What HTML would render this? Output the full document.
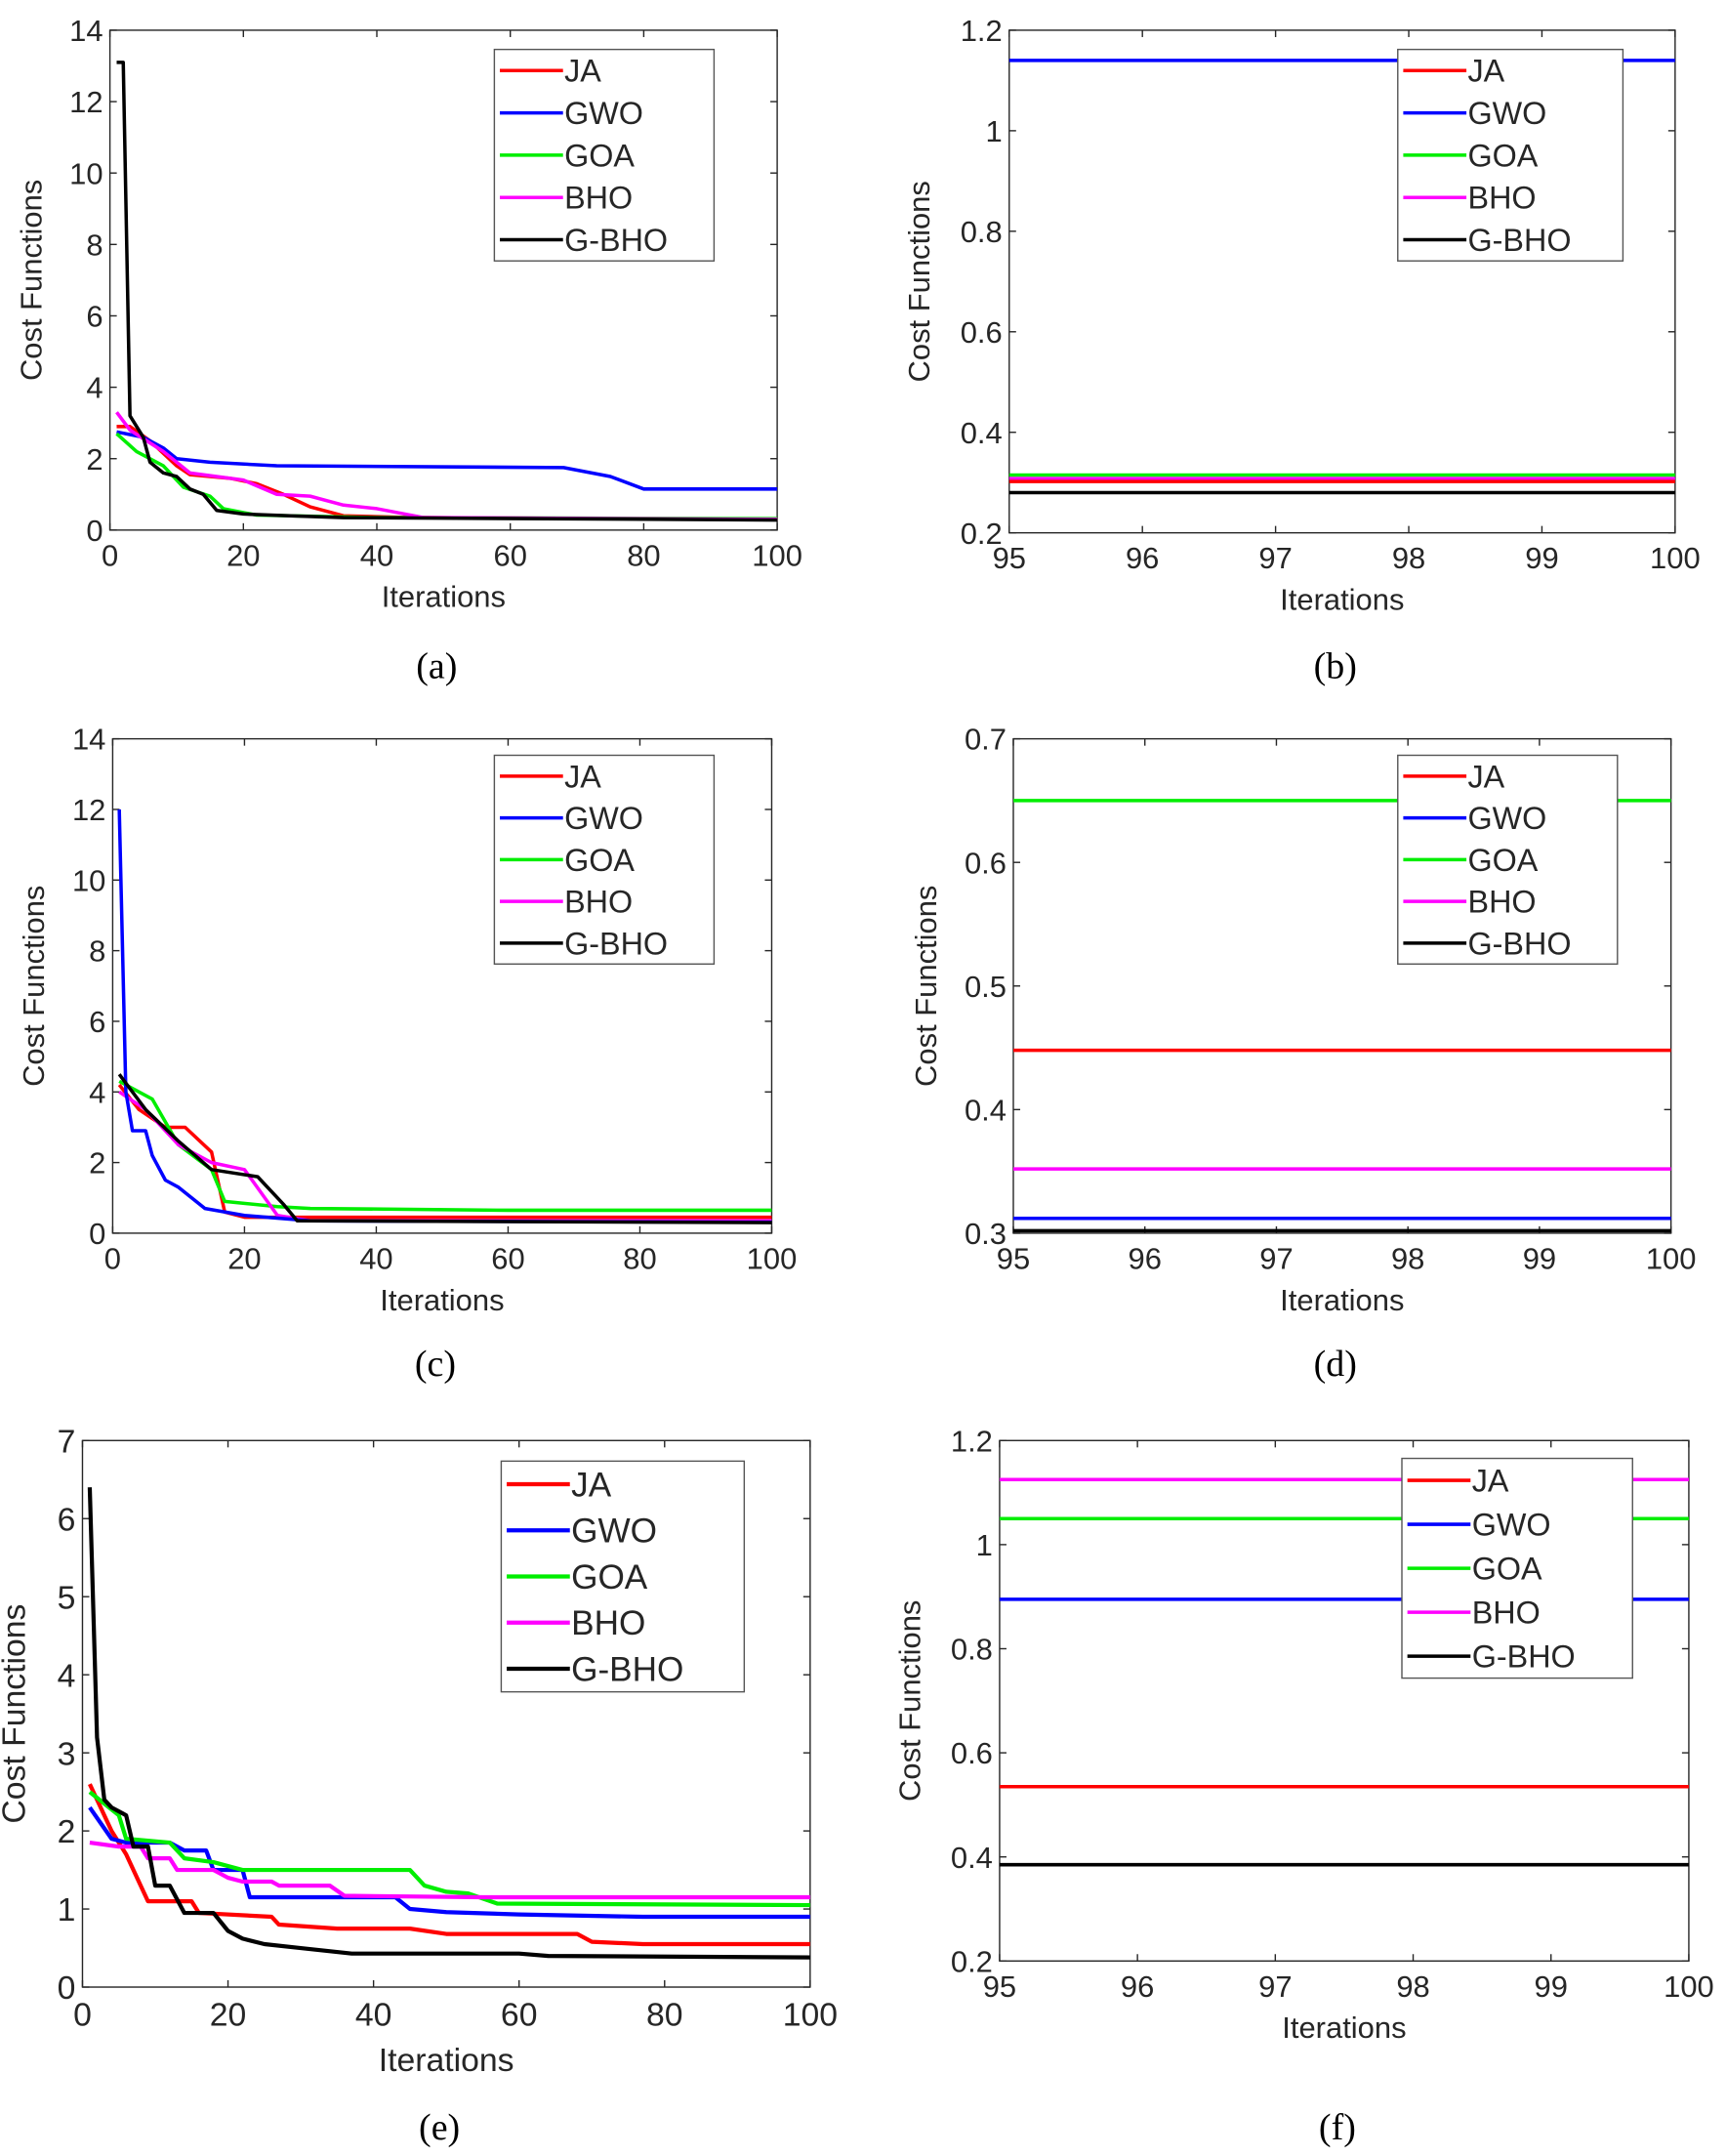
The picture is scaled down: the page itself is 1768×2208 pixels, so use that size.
<!DOCTYPE html>
<html><head><meta charset="utf-8"><style>
html,body{margin:0;padding:0;background:#fff}
svg{display:block}
text{font-family:"Liberation Sans",sans-serif;fill:#262626}
.cap{font-family:"Liberation Serif",serif;fill:#000;font-size:27px}
</style></head><body>
<svg id="s" width="1768" height="2208" viewBox="0 0 1257 1570" xmlns="http://www.w3.org/2000/svg"></svg>
<script>
const S=document.getElementById('s');
let out='';
const C={JA:'#ff0000',GWO:'#0000ff',GOA:'#00ee00',BHO:'#ff00ff','G-BHO':'#000000'};
function panel(p){
 const {x0,x1,y0,y1,xmin,xmax,ymin,ymax,xt,yt,leg,series,fs,cap,capy,lw}=p;
 const X=v=>x0+(v-xmin)/(xmax-xmin)*(x1-x0);
 const YY=v=>y1-(v-ymin)/(ymax-ymin)*(y1-y0);
 out+=`<rect x="${x0}" y="${y0}" width="${x1-x0}" height="${y1-y0}" fill="#fff" stroke="#262626" stroke-width="1"/>`;
 xt.forEach(v=>{const x=X(v);out+=`<line x1="${x}" y1="${y1}" x2="${x}" y2="${y1-5}" stroke="#262626"/><line x1="${x}" y1="${y0}" x2="${x}" y2="${y0+5}" stroke="#262626"/><text x="${x}" y="${y1+fs+4}" font-size="${fs}" text-anchor="middle">${v}</text>`;});
 yt.forEach(v=>{const y=YY(v);out+=`<line x1="${x0}" y1="${y}" x2="${x0+5}" y2="${y}" stroke="#262626"/><line x1="${x1}" y1="${y}" x2="${x1-5}" y2="${y}" stroke="#262626"/><text x="${x0-5}" y="${y+fs*0.36}" font-size="${fs}" text-anchor="end">${v}</text>`;});
 out+=`<text x="${(x0+x1)/2}" y="${y1+fs*2.55}" font-size="${fs}" text-anchor="middle">Iterations</text>`;
 const cy=(y0+y1)/2;const lx=x0-(p.ylo||42);
 out+=`<text x="${lx}" y="${cy}" font-size="${fs}" text-anchor="middle" transform="rotate(-90 ${lx} ${cy})">Cost Functions</text>`;
 for(const k in series){const d=series[k];let pts;
  if(typeof d==='number')pts=`${x0},${YY(d)} ${x1},${YY(d)}`;
  else pts=d.map(q=>X(q[0]).toFixed(1)+','+YY(q[1]).toFixed(1)).join(' ');
  out+=`<polyline points="${pts}" fill="none" stroke="${C[k]}" stroke-width="${lw}" stroke-linejoin="round"/>`;}
 const [lx0,ly0,lx1,ly1]=leg;
 out+=`<rect x="${lx0}" y="${ly0}" width="${lx1-lx0}" height="${ly1-ly0}" fill="#fff" stroke="#555" stroke-width="1"/>`;
 const n=5,h=(ly1-ly0)/n;
 Object.keys(C).forEach((k,i)=>{const y=ly0+h*(i+0.5);
  out+=`<line x1="${lx0+4}" y1="${y}" x2="${lx0+50}" y2="${y}" stroke="${C[k]}" stroke-width="${lw}"/><text x="${lx0+51}" y="${y+fs*0.37}" font-size="${fs+1}">${k}</text>`;});
 out+=`<text class="cap" x="${(x0+x1)/2-5}" y="${capy}" text-anchor="middle">${cap}</text>`;
}
const xa=[0,20,40,60,80,100], xb=[95,96,97,98,99,100];
panel({x0:80,x1:566,y0:22,y1:386,xmin:0,xmax:100,ymin:0,ymax:14,xt:xa,yt:[0,2,4,6,8,10,12,14],fs:22,lw:2.5,
 leg:[360,36,520,190],cap:'(a)',capy:494,ylo:50,
 series:{
 JA:[[1,2.9],[3,2.9],[6,2.5],[10,1.8],[12,1.55],[18,1.45],[22,1.3],[26,1],[30,0.65],[35,0.4],[45,0.35],[80,0.32],[100,0.3]],
 GWO:[[1,2.75],[5,2.6],[8,2.3],[10,2.0],[15,1.9],[25,1.8],[68,1.75],[75,1.5],[80,1.15],[100,1.15]],
 GOA:[[1,2.7],[4,2.2],[8,1.8],[11,1.2],[15,0.95],[17,0.6],[22,0.42],[40,0.35],[100,0.32]],
 BHO:[[1,3.3],[3,2.8],[8,2.2],[12,1.6],[20,1.4],[25,1.0],[30,0.95],[35,0.7],[40,0.6],[47,0.35],[100,0.3]],
 'G-BHO':[[1,13.1],[2,13.1],[3,3.2],[5,2.6],[6,1.9],[8,1.6],[10,1.5],[12,1.15],[14,1.0],[16,0.55],[20,0.45],[27,0.4],[35,0.35],[83,0.3],[100,0.28]]}});
panel({x0:735,x1:1220,y0:22,y1:388,xmin:95,xmax:100,ymin:0.2,ymax:1.2,xt:xb,yt:[0.2,0.4,0.6,0.8,1,1.2],fs:22,lw:2.5,
 leg:[1018,36,1182,190],cap:'(b)',capy:494,ylo:58,
 series:{GWO:1.14,GOA:0.315,BHO:0.308,JA:0.302,'G-BHO':0.28}});
panel({x0:82,x1:562,y0:538,y1:898,xmin:0,xmax:100,ymin:0,ymax:14,xt:xa,yt:[0,2,4,6,8,10,12,14],fs:22,lw:2.5,
 leg:[360,550,520,702],cap:'(c)',capy:1002,ylo:50,
 series:{
 JA:[[1,4.2],[4,3.5],[8,3],[11,3],[15,2.3],[17,0.6],[20,0.45],[100,0.45]],
 GOA:[[1,4.3],[6,3.8],[10,2.5],[15,1.8],[17,0.9],[25,0.75],[30,0.7],[60,0.65],[100,0.65]],
 BHO:[[1,4],[5,3.5],[10,2.5],[15,2],[20,1.8],[25,0.5],[30,0.35],[100,0.35]],
 GWO:[[1,12],[2,4],[3,2.9],[5,2.9],[6,2.2],[8,1.5],[10,1.3],[14,0.7],[20,0.5],[30,0.35],[100,0.31]],
 'G-BHO':[[1,4.5],[5,3.5],[10,2.6],[15,1.8],[22,1.6],[26,0.8],[28,0.35],[100,0.3]]}});
panel({x0:738,x1:1217,y0:538,y1:898,xmin:95,xmax:100,ymin:0.3,ymax:0.7,xt:xb,yt:[0.3,0.4,0.5,0.6,0.7],fs:22,lw:2.5,
 leg:[1018,550,1178,702],cap:'(d)',capy:1002,ylo:56,
 series:{GOA:0.65,JA:0.448,BHO:0.352,GWO:0.312,'G-BHO':0.302}});
panel({x0:60,x1:590,y0:1049,y1:1447,xmin:0,xmax:100,ymin:0,ymax:7,xt:xa,yt:[0,1,2,3,4,5,6,7],fs:24,lw:3,
 leg:[365,1064,542,1232],cap:'(e)',capy:1558,ylo:42,
 series:{
 JA:[[1,2.6],[4,2.0],[6,1.7],[8,1.3],[9,1.1],[15,1.1],[16,0.95],[26,0.9],[27,0.8],[35,0.75],[45,0.75],[50,0.68],[68,0.68],[70,0.58],[77,0.55],[100,0.55]],
 GWO:[[1,2.3],[4,1.9],[6,1.85],[12,1.85],[14,1.75],[17,1.75],[18,1.5],[22,1.5],[23,1.15],[43,1.15],[45,1.0],[50,0.96],[60,0.93],[77,0.9],[100,0.9]],
 GOA:[[1,2.5],[5,2.2],[6,1.9],[12,1.85],[14,1.65],[18,1.6],[22,1.5],[45,1.5],[47,1.3],[50,1.22],[53,1.2],[57,1.07],[100,1.05]],
 BHO:[[1,1.85],[5,1.8],[8,1.8],[9,1.65],[12,1.65],[13,1.5],[18,1.5],[20,1.4],[22,1.35],[26,1.35],[27,1.3],[34,1.3],[36,1.17],[55,1.15],[100,1.15]],
 'G-BHO':[[1,6.4],[2,3.2],[3,2.4],[4,2.3],[6,2.2],[7,1.8],[9,1.8],[10,1.3],[12,1.3],[14,0.95],[18,0.95],[20,0.72],[22,0.62],[25,0.55],[30,0.5],[37,0.43],[60,0.43],[64,0.4],[100,0.38]]}});
panel({x0:728,x1:1230,y0:1049,y1:1428,xmin:95,xmax:100,ymin:0.2,ymax:1.2,xt:xb,yt:[0.2,0.4,0.6,0.8,1,1.2],fs:22,lw:2.5,
 leg:[1021,1062,1189,1222],cap:'(f)',capy:1558,ylo:58,
 series:{BHO:1.125,GOA:1.05,GWO:0.895,JA:0.535,'G-BHO':0.385}});
S.innerHTML=out;
</script>
</body></html>
